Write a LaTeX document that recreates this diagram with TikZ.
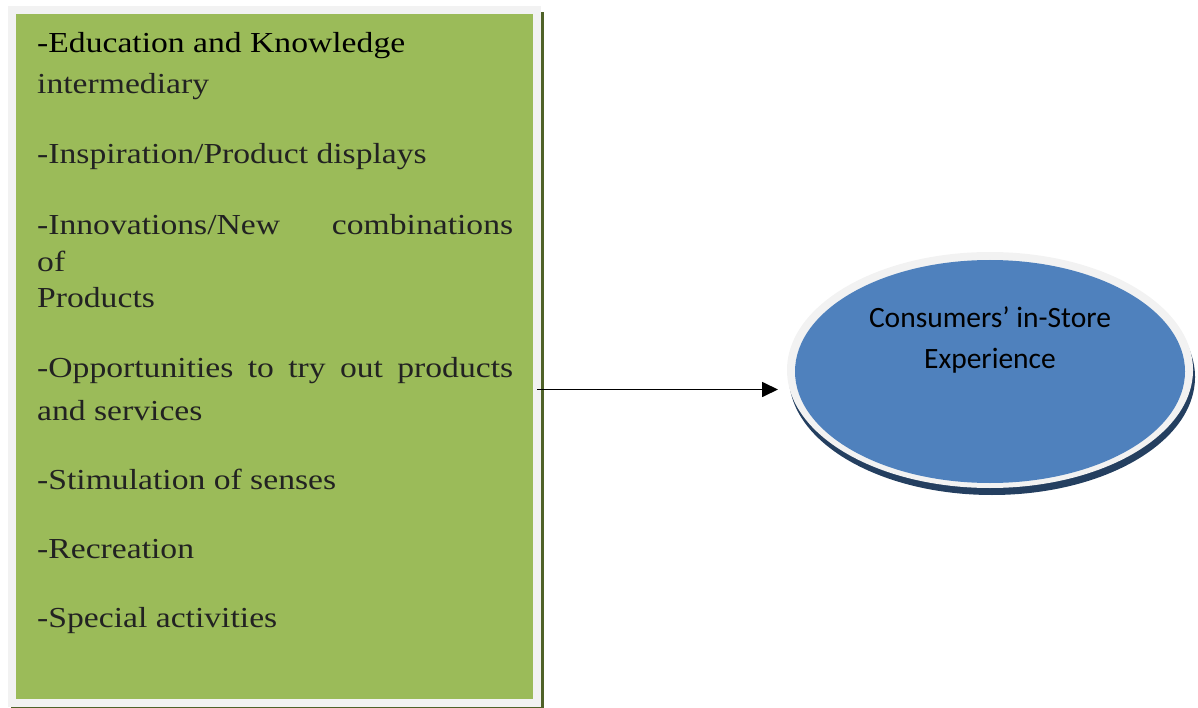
\documentclass[tikz,border=0pt]{standalone}
\usepackage{fontspec}
\setmainfont[FakeStretch=1.16]{Liberation Serif}
\newfontfamily\calib{Carlito}
\usetikzlibrary{arrows.meta,shapes.geometric}
\definecolor{boxgreen}{HTML}{9BBB59}
\definecolor{framegray}{HTML}{F2F2F2}
\definecolor{shadegreen}{HTML}{4F6228}
\definecolor{ellblue}{HTML}{4F81BD}
\definecolor{shadeblue}{HTML}{243F60}
\definecolor{txt}{HTML}{222222}
\tikzset{
  itemtext/.style={anchor=base west, inner sep=0pt, font=\fontsize{29}{34}\selectfont, text=txt},
  elltext/.style={anchor=base, inner sep=0pt, font=\calib\fontsize{29.5}{34}\selectfont, text=black},
  arr/.style={line width=1.7pt, -{Triangle[length=16pt,width=15pt]}},
}
\newcommand{\jline}[1]{\makebox[476pt][s]{#1}}
\begin{document}
\begin{tikzpicture}[x=1pt,y=-1pt]
\useasboundingbox (0,0) rectangle (1198,708);
% left box
\fill[shadegreen] (11,12) rectangle (544,712);
\fill[framegray] (8,6) rectangle (541,707);
\fill[boxgreen] (16,14) rectangle (533,699);
\node[inner sep=0pt, minimum width=533pt, minimum height=702pt] (box) at (274.5,357) {};
\node[itemtext, text=black] (l1) at (37,53) {-Education and Knowledge};
\node[itemtext] (l2) at (37,94) {intermediary};
\node[itemtext] (l3) at (37,164) {-Inspiration/Product displays};
\node[itemtext] (l4) at (37,235) {\jline{-Innovations/New combinations}};
\node[itemtext] (l5) at (37,272) {of};
\node[itemtext] (l6) at (37,307) {Products};
\node[itemtext] (l7) at (37,377) {\jline{-Opportunities to try out products}};
\node[itemtext] (l8) at (37,420) {and services};
\node[itemtext] (l9) at (37,489) {-Stimulation of senses};
\node[itemtext] (l10) at (37,558) {-Recreation};
\node[itemtext] (l11) at (37,627) {-Special activities};
% ellipse
\fill[shadeblue] (992,377) ellipse [x radius=203, y radius=118];
\fill[framegray] (990,370) ellipse [x radius=203, y radius=118];
\node[ellipse, fill=ellblue, inner sep=0pt, minimum width=390pt, minimum height=223pt] (ell) at (990,371.5) {};
\node[elltext] (e1) at (990,327) {Consumers’ in-Store};
\node[elltext] (e2) at (990,368) {Experience};
% arrow
\coordinate (as) at (537,389.5);
\coordinate (ae) at (778,389.5);
\draw[arr] (as) -- (ae);
\end{tikzpicture}
\end{document}
